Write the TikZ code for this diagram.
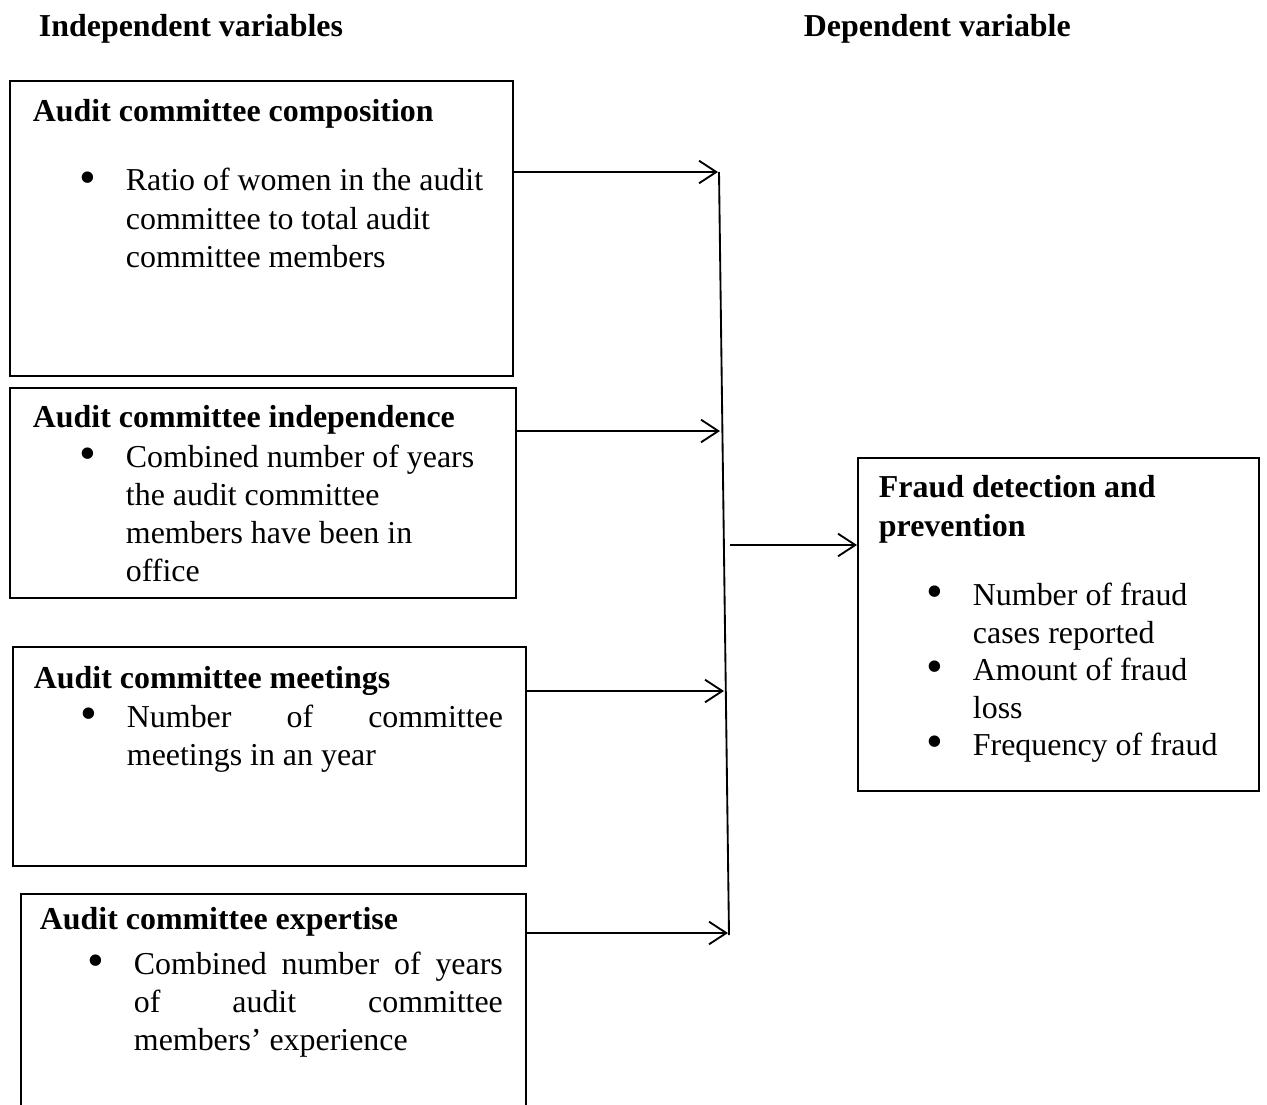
\documentclass[tikz,border=0pt]{standalone}
\usepackage{fontspec}
\setmainfont{Liberation Serif}
\usetikzlibrary{arrows.meta}

\newcommand{\pxl}{0.376pt}
% bullet item: dot, then a top-aligned paragraph
\newcommand{\bdot}{\raisebox{-0.9pt}{\fontsize{18}{14}\selectfont\textbullet}}
\newcommand{\bpt}[2]{\makebox[17.3pt][l]{\bdot}\parbox[t]{#1}{#2}}

\tikzset{
  box/.style={draw, anchor=north west, inner sep=0pt},
  txt/.style={anchor=base west, inner sep=0pt, yshift=-0.75pt},
  head/.style={txt, font=\fontsize{12}{14.3}\selectfont\bfseries},
}

\begin{document}
\begin{tikzpicture}[x=\pxl, y=-\pxl, line width=0.7pt,
  >={Straight Barb[length=6.5pt,width=8.5pt]}, font=\fontsize{12}{14.3}\selectfont]
\useasboundingbox (0,0) rectangle (1267,1104);
\clip (0,0) rectangle (1267,1104);

\node[head] (indhd) at (38,35) {Independent variables};
\node[head] (dephd) at (803,35) {Dependent variable};

% left boxes
\node[box, minimum width=189.1pt, minimum height=110.9pt] (comp) at (9,80) {};
\node[box, minimum width=190.3pt, minimum height=79pt] (indep) at (9,387) {};
\node[box, minimum width=192.9pt, minimum height=82.3pt] (meet) at (12,646) {};
\node[box, minimum width=189.9pt, minimum height=90.2pt] (expert) at (20,893) {};

\node[head] (comphd) at (32,120) {Audit committee composition};
\node[txt] (compit) at (79,189) {\bpt{143pt}{Ratio of women in the audit\\committee to total audit\\committee members}};

\node[head] (indephd) at (32,426) {Audit committee independence};
\node[txt] (indepit) at (79,465) {\bpt{143pt}{Combined number of years\\the audit committee\\members have been in\\office}};

\node[head] (meethd) at (33,686) {Audit committee meetings};
\node[txt] (meetit) at (80,725) {\bpt{141.4pt}{Number of committee\linebreak meetings in an year}};

\node[head] (experthd) at (39,927) {Audit committee expertise};
\node[txt] (expertit) at (87,972) {\bpt{138.7pt}{Combined number of years\linebreak of audit committee\linebreak members’ experience}};

% right box
\node[box, minimum width=150.8pt, minimum height=125.2pt] (fraud) at (857,457) {};
\node[txt] (fraudhd) at (878,496) {\parbox[t]{140pt}{\bfseries Fraud detection and\\prevention}};
\node[txt] (fraudit1) at (926,603) {\bpt{98pt}{Number of fraud\\cases reported}};
\node[txt] (fraudit2) at (926,678) {\bpt{98pt}{Amount of fraud\\loss}};
\node[txt] (fraudit3) at (926,753) {\bpt{98pt}{Frequency of fraud}};

% bar and arrows
\coordinate (bartop) at (719,172);
\coordinate (barbot) at (729,935);
\draw (bartop) -- (barbot);
\coordinate (a1) at (718,172);
\coordinate (a2) at (720,431);
\coordinate (a3) at (724,691);
\coordinate (a4) at (728,933);
\coordinate (bm) at (730,545);

\draw[->] (comp.east |- a1) -- (a1);
\draw[->] (indep.east |- a2) -- (a2);
\draw[->] (meet.east |- a3) -- (a3);
\draw[->] (expert.east |- a4) -- (a4);
\draw[->] (bm) -- (fraud.west |- bm);
\end{tikzpicture}
\end{document}
